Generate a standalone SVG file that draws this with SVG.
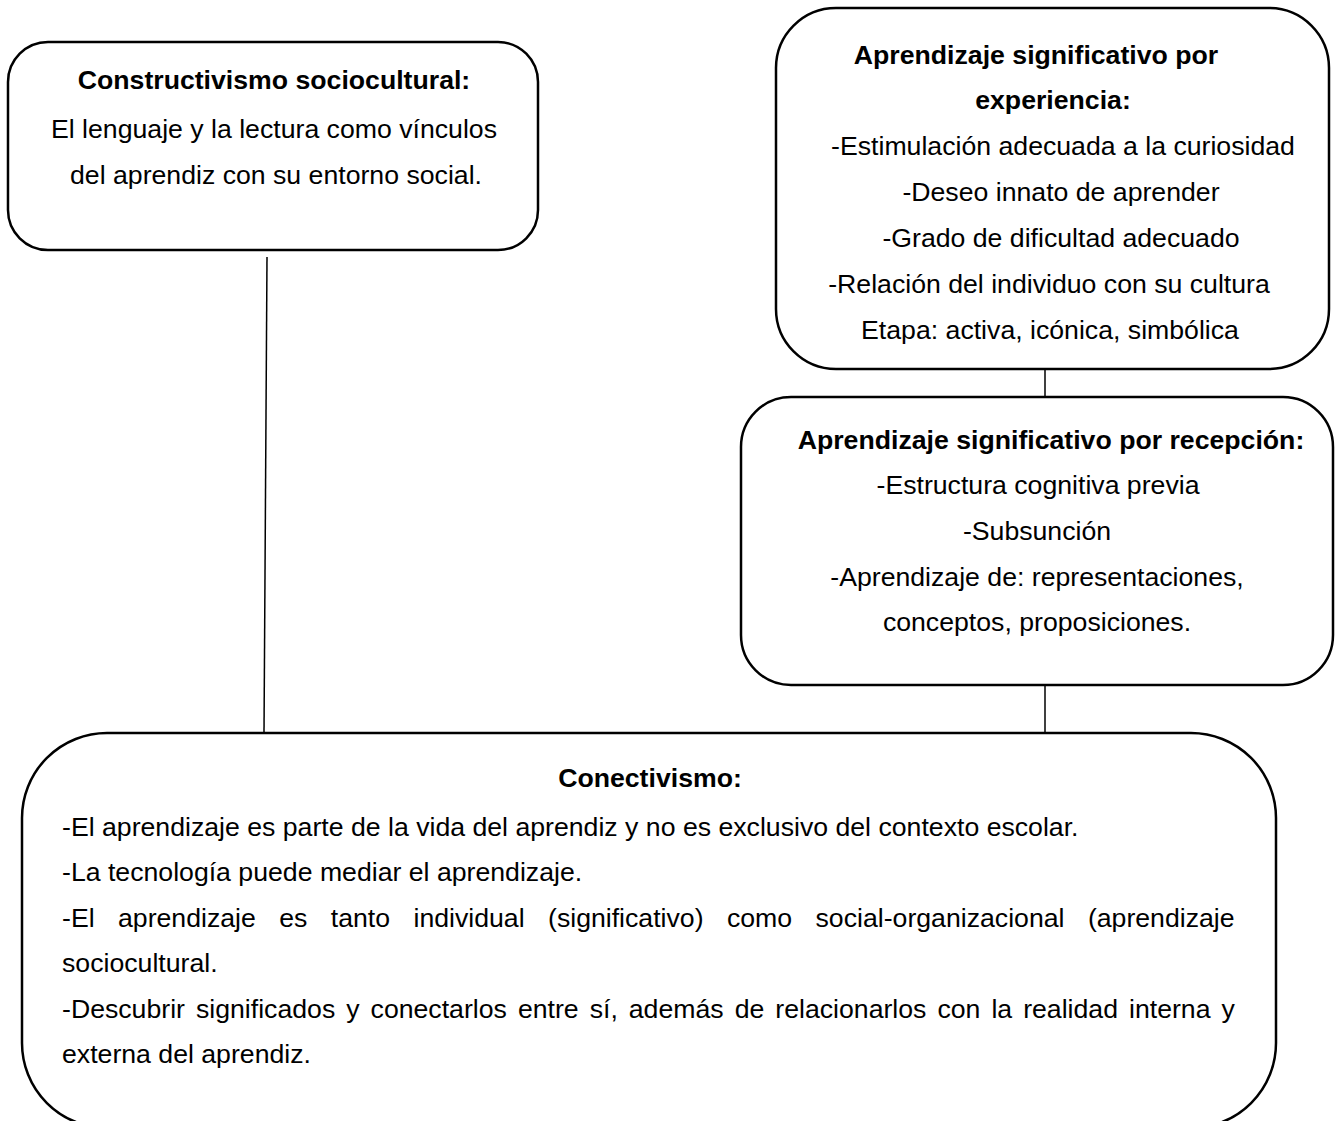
<svg xmlns="http://www.w3.org/2000/svg" width="1338" height="1121" viewBox="0 0 1338 1121">
<style>
.box{fill:#fff;stroke:#000;stroke-width:2.5}
.conn{stroke:#000;stroke-width:1.5;fill:none}
text{font-family:"Liberation Sans",Arial,sans-serif;font-size:26.67px;fill:#000}
.c{text-anchor:middle}
.b{font-weight:bold}
</style>
<rect width="1338" height="1121" fill="#fff"/>
<g id="connectors">
<line class="conn" x1="267" y1="257" x2="264" y2="733"/>
<line class="conn" x1="1045" y1="369" x2="1045" y2="397"/>
<line class="conn" x1="1045" y1="685" x2="1045" y2="741"/>
</g>
<g id="constructivismo">
<rect class="box" x="8" y="42" width="530" height="208" rx="40"/>
<text class="c b" x="274" y="89">Constructivismo sociocultural:</text>
<text class="c" x="274" y="138">El lenguaje y la lectura como vínculos</text>
<text class="c" x="276" y="184">del aprendiz con su entorno social.</text>
</g>
<g id="experiencia">
<rect class="box" x="776" y="8" width="553" height="361" rx="60"/>
<text class="c b" x="1036" y="64">Aprendizaje significativo por</text>
<text class="c b" x="1053" y="109">experiencia:</text>
<text class="c" x="1063" y="155">-Estimulación adecuada a la curiosidad</text>
<text class="c" x="1061" y="201">-Deseo innato de aprender</text>
<text class="c" x="1061" y="247">-Grado de dificultad adecuado</text>
<text class="c" x="1049" y="293">-Relación del individuo con su cultura</text>
<text class="c" x="1050" y="339">Etapa: activa, icónica, simbólica</text>
</g>
<g id="recepcion">
<rect class="box" x="741" y="397" width="592" height="288" rx="50"/>
<text class="c b" x="1051" y="449">Aprendizaje significativo por recepción:</text>
<text class="c" x="1038" y="494">-Estructura cognitiva previa</text>
<text class="c" x="1037" y="540">-Subsunción</text>
<text class="c" x="1037" y="586">-Aprendizaje de: representaciones,</text>
<text class="c" x="1037" y="631">conceptos, proposiciones.</text>
</g>
<g id="conectivismo">
<rect class="box" x="22" y="733" width="1254" height="395" rx="85"/>
<text class="c b" x="650" y="787">Conectivismo:</text>
<text x="62" y="836">-El aprendizaje es parte de la vida del aprendiz y no es exclusivo del contexto escolar.</text>
<text x="62" y="881">-La tecnología puede mediar el aprendizaje.</text>
<text x="62" y="927" word-spacing="16">-El aprendizaje es tanto individual (significativo) como social-organizacional (aprendizaje</text>
<text x="62" y="972">sociocultural.</text>
<text x="62" y="1018" word-spacing="3.6">-Descubrir significados y conectarlos entre sí, además de relacionarlos con la realidad interna y</text>
<text x="62" y="1063">externa del aprendiz.</text>
</g>
</svg>
